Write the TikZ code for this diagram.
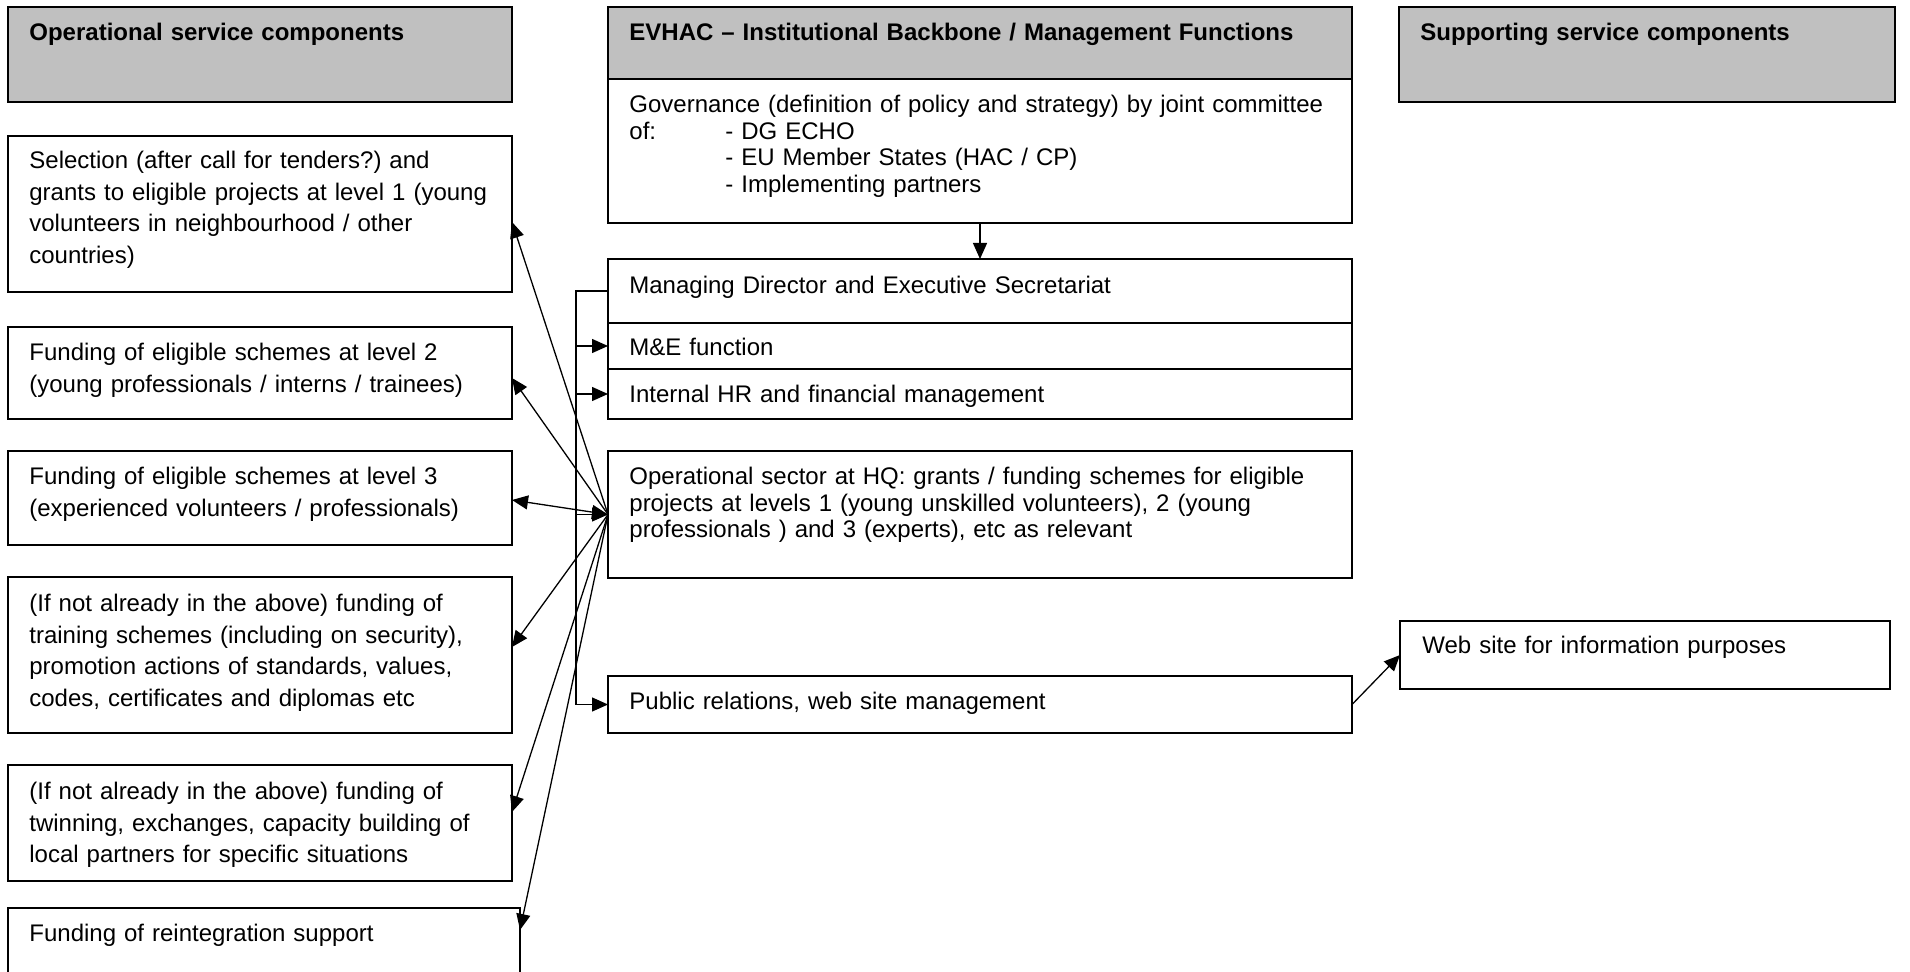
\documentclass[tikz,border=0pt]{standalone}
\usepackage{fontspec}
\setmainfont{Liberation Sans}
\usepackage{tikz}
\usetikzlibrary{positioning,arrows.meta,calc}
\definecolor{hdrgray}{RGB}{192,192,192}
\frenchspacing

\begin{document}
\begin{tikzpicture}[
  x=0.5pt, y=-0.5pt,
  >={Triangle[length=8pt,width=7pt]},
  % --- boxes and connectors ---
  base/.style ={draw=black,line width=0.8pt,inner sep=0pt,outer sep=0pt,
                anchor=north west},
  cell/.style ={base,fill=white},
  hdr/.style  ={base,fill=hdrgray},
  txt/.style  ={inner sep=0pt,align=left,text width=245pt,
                font=\fontsize{12pt}{15.85pt}\selectfont,
                execute at begin node={\rule{0pt}{10pt}}},
  ctxt/.style ={txt,text width=355pt,font=\fontsize{12pt}{13.35pt}\selectfont},
  htxt/.style ={txt,text width=355pt,font=\fontsize{12pt}{15pt}\selectfont\bfseries},
  link/.style ={->,line width=0.65pt},
  wire/.style ={line width=0.65pt},
]
\useasboundingbox (0,0) rectangle (1910,972);
\clip (0,0) rectangle (1910,972);

% ======================= left: operational components ======================
\node[hdr,minimum width=252pt,minimum height=47.5pt] (ophd) at (8,7) {};
\node[cell,minimum width=252pt,minimum height=78pt,below=17pt of ophd] (sel) {};
\node[cell,minimum width=252pt,minimum height=46pt,below=17.5pt of sel] (lvtwo) {};
\node[cell,minimum width=252pt,minimum height=47pt,below=16pt of lvtwo] (lvthree) {};
\node[cell,minimum width=252pt,minimum height=78pt,below=16pt of lvthree] (train) {};
\node[cell,minimum width=252pt,minimum height=58pt,below=16pt of train] (twin) {};
\node[cell,minimum width=256pt,minimum height=50pt] (reint) at (8,908) {};

\node[htxt,below right=6.5pt and 10.5pt of ophd.north west] (ophdtx)
  {Operational service components};
\node[txt,below right=6pt and 10.5pt of sel.north west] (seltx)
  {Selection (after call for tenders?) and\\
   grants to eligible projects at level 1 (young\\
   volunteers in neighbourhood / other\\
   countries)};
\node[txt,below right=6.5pt and 10.5pt of lvtwo.north west] (lvtwotx)
  {Funding of eligible schemes at level 2\\
   (young professionals / interns / trainees)};
\node[txt,below right=6.5pt and 10.5pt of lvthree.north west] (lvthreetx)
  {Funding of eligible schemes at level 3\\
   (experienced volunteers / professionals)};
\node[txt,below right=7pt and 10.5pt of train.north west] (traintx)
  {(If not already in the above) funding of\\
   training schemes (including on security),\\
   promotion actions of standards, values,\\
   codes, certificates and diplomas etc};
\node[txt,below right=7pt and 10.5pt of twin.north west] (twintx)
  {(If not already in the above) funding of\\
   twinning, exchanges, capacity building of\\
   local partners for specific situations};
\node[txt,below right=6.5pt and 10.5pt of reint.north west] (reinttx)
  {Funding of reintegration support};

% ===================== centre: institutional backbone ======================
\node[hdr,minimum width=372pt,minimum height=36pt] (evhd) at (608,7) {};
\node[cell,minimum width=372pt,minimum height=72pt,below=0pt of evhd] (gov) {};
\node[cell,minimum width=372pt,minimum height=32pt,below=18pt of gov] (md) {};
\node[cell,minimum width=372pt,minimum height=23pt,below=0pt of md] (me) {};
\node[cell,minimum width=372pt,minimum height=25pt,below=0pt of me] (hr) {};
\node[cell,minimum width=372pt,minimum height=63.5pt,below=16pt of hr] (ops) {};
\node[cell,minimum width=372pt,minimum height=28.5pt,below=49pt of ops] (pr) {};

\node[htxt,below right=6.5pt and 10.5pt of evhd.north west] (evhdtx)
  {EVHAC -- Institutional Backbone / Management Functions};
\node[ctxt,below right=6.5pt and 10.5pt of gov.north west] (govtx)
  {Governance (definition of policy and strategy) by joint committee\\
   \makebox[48pt][l]{of:}- DG ECHO\\
   \hspace*{48pt}- EU Member States (HAC / CP)\\
   \hspace*{48pt}- Implementing partners};
\node[ctxt,below right=7pt and 10.5pt of md.north west] (mdtx)
  {Managing Director and Executive Secretariat};
\node[ctxt,below right=6pt and 10.5pt of me.north west] (metx) {M\&E function};
\node[ctxt,below right=6.5pt and 10.5pt of hr.north west] (hrtx)
  {Internal HR and financial management};
\node[ctxt,below right=6.5pt and 10.5pt of ops.north west] (opstx)
  {Operational sector at HQ: grants / funding schemes for eligible\\
   projects at levels 1 (young unskilled volunteers), 2 (young\\
   professionals ) and 3 (experts), etc as relevant};
\node[ctxt,below right=6.5pt and 10.5pt of pr.north west] (prtx)
  {Public relations, web site management};

% ===================== right: supporting components ========================
\node[hdr,minimum width=248pt,minimum height=47.5pt] (suphd) at (1399,7) {};
\node[cell,minimum width=245pt,minimum height=34pt] (web) at (1400,621) {};

\node[htxt,text width=240pt,below right=6.5pt and 10.5pt of suphd.north west] (suphdtx)
  {Supporting service components};
\node[txt,text width=235pt,below right=6pt and 11pt of web.north west] (webtx)
  {Web site for information purposes};

% ============================== connectors =================================
\draw[link] (gov.south) -- (md.north);

% bus on the left of the backbone
\coordinate (busx) at (576,0);
\draw[wire] (md.west) -- (busx |- md.west) -- (busx |- pr.west);
\draw[link] (busx |- me.west)  -- (me.west);
\draw[link] (busx |- hr.west)  -- (hr.west);
\draw[link] (busx |- ops.west) -- (ops.west);
\draw[link] (busx |- pr.west)  -- (pr.west);

% fan from the operational sector to the components
\draw[link] (ops.west) -- ([yshift=-4pt]sel.east);
\draw[link] (ops.west) -- ([yshift=-2.5pt]lvtwo.east);
\draw[link,<->] (ops.west) -- ([yshift=-1pt]lvthree.east);
\draw[link] (ops.west) -- ([yshift=4pt]train.east);
\draw[link] (ops.west) -- ([yshift=5.5pt]twin.east);
\draw[link] (ops.west) -- ([yshift=-11pt]reint.north east);

\draw[link] (pr.east) -- (web.west);

\end{tikzpicture}
\end{document}
